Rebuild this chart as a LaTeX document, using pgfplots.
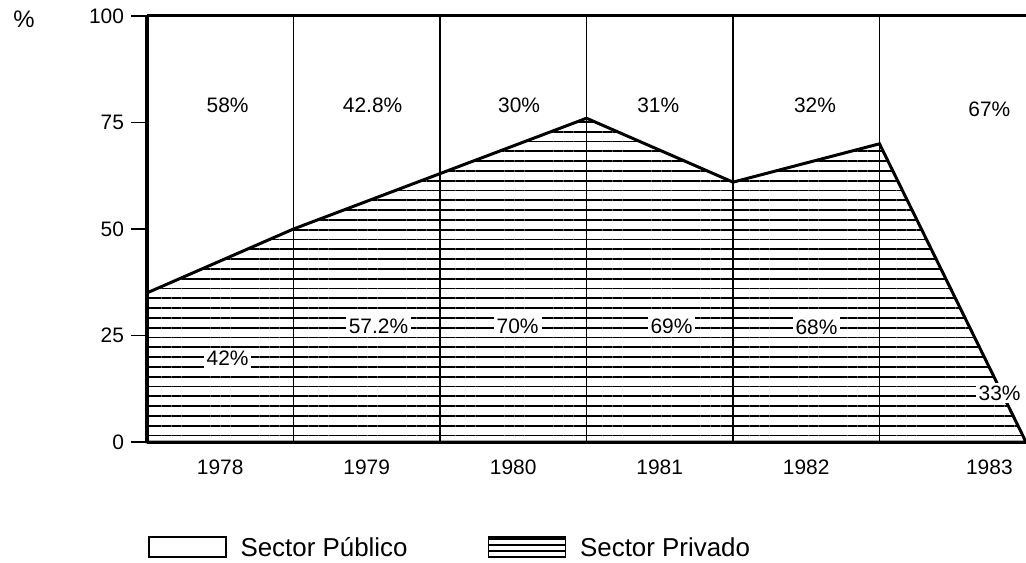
\documentclass[border=0pt]{standalone}
\usepackage{fontspec}
\setmainfont{Liberation Sans}
\usepackage{pgfplots}
\pgfplotsset{compat=1.18}
\usetikzlibrary{patterns.meta}
\begin{document}
\begin{tikzpicture}
\useasboundingbox (-73.5bp,-60.5bp) rectangle (439.5bp,221bp);
\begin{axis}[
  at={(0,0)}, anchor=south west,
  scale only axis, width=439.5bp, height=213bp,
  xmin=0, xmax=6, ymin=0, ymax=100,
  clip=false,
  axis line style={draw=none},
  ytick={0,25,50,75,100},
  xtick={0.5,1.5,2.5,3.5,4.5,5.75},
  xticklabels={1978,1979,1980,1981,1982,1983},
  x tick style={draw=none},
  y tick style={black, line width=0.6pt},
  tick align=outside,
  major tick length=8bp,
  /pgf/number format/assume math mode=true,
  ticklabel style={font=\fontsize{10.5}{12}\selectfont},
  xticklabel style={yshift=2.5bp},
  legend columns=2,
  legend cell align=left,
  legend style={draw=none, fill=none, at={(0.0011,-0.2465)}, anchor=west,
    inner sep=0pt, font=\fontsize{13}{15}\selectfont,
    nodes={text height=2.4ex, text depth=0.6ex},
    /tikz/every odd column/.append style={column sep=5bp},
    /tikz/every even column/.append style={column sep=38bp}},
]
% Sector Publico: region between the private curve and 100 %
\addplot[draw=none, fill=white,
  legend image code/.code={\draw[black, fill=white, line width=0.6pt] (0bp,-5bp) rectangle (38.5bp,5bp);}]
  coordinates {(0,100) (6,100) (6,0) (5,70) (4,61) (3,76) (1,50) (0,35)} -- cycle;
% Sector Privado (share of total, %)
\addplot[draw=black, line width=1.5pt,
  pattern={Lines[angle=0, distance=4.9bp, line width=0.9bp]}, pattern color=black,
  legend image code/.code={\draw[black, line width=0.6pt, pattern={Lines[angle=0, distance=3bp, line width=0.8bp]}] (0bp,-5bp) rectangle (38.5bp,5bp);}]
  coordinates {(0,35) (1,50) (3,76) (4,61) (5,70) (6,0)} \closedcycle;
\legend{Sector Público, Sector Privado}
% frame and separators
\pgfplotsinvokeforeach{1,2,3,4,5}{\draw[black, line width=0.6bp] (axis cs:#1,0) -- (axis cs:#1,100);}
\draw[black, line width=1.6bp] (axis cs:0,0) -- (axis cs:0,100);
\draw[black, line width=1.5bp] (axis cs:0,100) -- (axis cs:6,100);
\draw[black, line width=1.5bp] (axis cs:0,0) -- (axis cs:6,0);
% labels
\node[font=\fontsize{12}{14}\selectfont] at (axis cs:-0.84,99.3) {\%};
\begin{scope}[every node/.style={font=\fontsize{10.5}{12}\selectfont}]
\node at (axis cs:0.55,79) {58\%};
\node at (axis cs:1.54,79) {42.8\%};
\node at (axis cs:2.54,79) {30\%};
\node at (axis cs:3.49,79) {31\%};
\node at (axis cs:4.56,79) {32\%};
\node at (axis cs:5.75,78) {67\%};
\node[fill=white, inner sep=1.5pt] at (axis cs:0.55,19.7) {42\%};
\node[fill=white, inner sep=1.5pt] at (axis cs:1.58,27.2) {57.2\%};
\node[fill=white, inner sep=1.5pt] at (axis cs:2.53,27.2) {70\%};
\node[fill=white, inner sep=1.5pt] at (axis cs:3.58,27.2) {69\%};
\node[fill=white, inner sep=1.5pt] at (axis cs:4.57,27) {68\%};
\node[fill=white, inner sep=1.5pt] at (axis cs:5.82,11.5) {33\%};
\end{scope}
\end{axis}
\end{tikzpicture}
\end{document}
